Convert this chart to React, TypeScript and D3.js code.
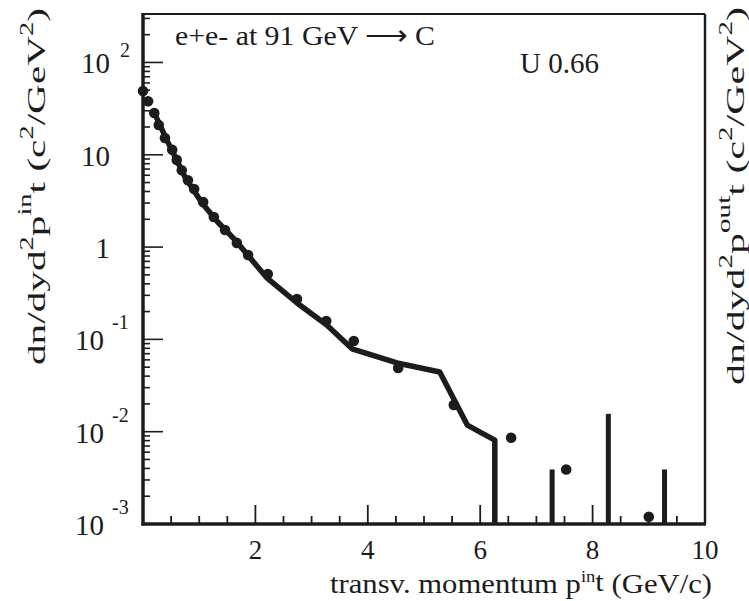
import React, { useEffect, useRef } from "react";
import * as d3 from "d3";

// measured points (dots)
const pointX = [0.0, 0.09, 0.2, 0.28, 0.39, 0.52, 0.6, 0.69, 0.8, 0.91, 1.07, 1.26, 1.46, 1.67, 1.87, 2.22, 2.74, 3.26, 3.75, 4.54, 5.53, 6.55, 7.53, 9.0];
const pointY = [49, 38, 28.4, 21, 15.2, 11.3, 8.8, 6.8, 5.3, 4.26, 3.08, 2.12, 1.53, 1.11, 0.82, 0.51, 0.274, 0.158, 0.096, 0.049, 0.0195, 0.0086, 0.0039, 0.0012];

// model curve
const curveX = [0.2, 0.44, 0.75, 1.05, 1.33, 1.64, 2.21, 2.74, 3.27, 3.72, 4.52, 5.28, 5.77, 6.26, 6.26];
const curveY = [28.4, 13.8, 5.7, 3.0, 1.87, 1.19, 0.46, 0.248, 0.143, 0.079, 0.0555, 0.0444, 0.0118, 0.0081, 0.001];

// isolated model bins
const spikeX = [7.28, 8.28, 9.28];
const spikeY = [0.0039, 0.0156, 0.0039];

const xTickLabels = [2, 4, 6, 8, 10];
const yDecades = [-3, -2, -1, 0, 1, 2];

const W = 749;
const H = 601;
const FONT = "'Liberation Serif', 'Times New Roman', serif";
const INK = "#1c1c1c";

export default function App() {
  const ref = useRef<SVGSVGElement>(null);

  useEffect(() => {
    const svg = d3.select(ref.current);
    svg.selectAll("*").remove();

    const x = d3.scaleLinear().domain([0, 10]).range([143, 705]);
    const y = d3.scaleLog().domain([1e-3, 335]).range([524, 14]);
    const [x0, x1] = x.range();
    const [yb, yt] = y.range();

    // ticks on x (inside, pointing up)
    const xt = d3.range(0.5, 10, 0.5);
    svg
      .append("g")
      .selectAll("line")
      .data(xt)
      .join("line")
      .attr("x1", (d) => x(d))
      .attr("x2", (d) => x(d))
      .attr("y1", yb)
      .attr("y2", (d) => (d % 2 === 0 ? yb - 19 : yb - 8))
      .attr("stroke", INK)
      .attr("stroke-width", 1.8);

    // ticks on y (log, inside)
    const yt2: { v: number; major: boolean }[] = [];
    yDecades.forEach((e) => {
      for (let m = 1; m <= 9; m++) {
        const v = m * Math.pow(10, e);
        if (v <= 335) yt2.push({ v, major: m === 1 });
      }
    });
    svg
      .append("g")
      .selectAll("line")
      .data(yt2)
      .join("line")
      .attr("x1", x0)
      .attr("x2", (d) => (d.major ? x0 + 20 : x0 + 7))
      .attr("y1", (d) => y(d.v))
      .attr("y2", (d) => y(d.v))
      .attr("stroke", INK)
      .attr("stroke-width", 1.6);

    // frame
    const frame = svg.append("g").attr("stroke", INK).attr("fill", "none");
    frame.append("line").attr("x1", x0).attr("x2", x1).attr("y1", yt).attr("y2", yt).attr("stroke-width", 2.2);
    frame.append("line").attr("x1", x1).attr("x2", x1).attr("y1", yt).attr("y2", yb).attr("stroke-width", 2.4);
    frame.append("line").attr("x1", x0).attr("x2", x0).attr("y1", yt - 1).attr("y2", yb + 1.5).attr("stroke-width", 3.5);
    frame.append("line").attr("x1", x0 - 1.5).attr("x2", x1 + 1).attr("y1", yb).attr("y2", yb).attr("stroke-width", 3.5);

    // model curve
    const line = d3
      .line<number>()
      .x((d, i) => x(curveX[i]))
      .y((d) => y(d));
    svg
      .append("path")
      .datum(curveY)
      .attr("d", line)
      .attr("fill", "none")
      .attr("stroke", INK)
      .attr("stroke-width", 5.5)
      .attr("stroke-linejoin", "round");

    svg
      .append("g")
      .selectAll("line")
      .data(spikeY)
      .join("line")
      .attr("x1", (d, i) => x(spikeX[i]))
      .attr("x2", (d, i) => x(spikeX[i]))
      .attr("y1", yb)
      .attr("y2", (d) => y(d))
      .attr("stroke", INK)
      .attr("stroke-width", 5);

    // data points
    svg
      .append("g")
      .selectAll("circle")
      .data(pointY)
      .join("circle")
      .attr("cx", (d, i) => x(pointX[i]))
      .attr("cy", (d) => y(d))
      .attr("r", 5.3)
      .attr("fill", INK);

    const text = svg.append("g").attr("font-family", FONT).attr("fill", INK);

    // x tick labels
    text
      .selectAll("text.xl")
      .data(xTickLabels)
      .join("text")
      .attr("class", "xl")
      .attr("x", (d) => x(d))
      .attr("y", 559)
      .attr("text-anchor", "middle")
      .attr("font-size", 27)
      .text((d) => String(d));

    // y tick labels
    yDecades.forEach((e) => {
      const ty = y(Math.pow(10, e));
      const right = e < 0 ? 104 : 110;
      text
        .append("text")
        .attr("x", right)
        .attr("y", ty + 11)
        .attr("text-anchor", "end")
        .attr("font-size", 29)
        .text(e === 0 ? "1" : "10");
      if (e !== 1 && e !== 0) {
        text
          .append("text")
          .attr("x", right + (e < 0 ? 8 : 10))
          .attr("y", ty + (e < 0 ? -10 : -5))
          .attr("font-size", 20)
          .text(String(e));
      }
    });

    // x title
    const xt3 = text
      .append("text")
      .attr("x", 330)
      .attr("y", 593)
      .attr("font-size", 28)
      .attr("textLength", 382)
      .attr("lengthAdjust", "spacingAndGlyphs");
    xt3.append("tspan").text("transv. momentum p");
    xt3.append("tspan").attr("font-size", 17).attr("dy", -11).text("in");
    xt3.append("tspan").attr("dy", 9).text("t");
    xt3.append("tspan").attr("dy", 2).text(" (GeV/c)");

    // y titles
    const yTitle = (cx: number, startY: number, len: number, sup: string) => {
      const t = text
        .append("text")
        .attr("transform", `translate(${cx},${startY}) rotate(-90)`)
        .attr("font-size", 26)
        .attr("textLength", len)
        .attr("lengthAdjust", "spacingAndGlyphs");
      t.append("tspan").text("dn/dyd");
      t.append("tspan").attr("font-size", 18).attr("dy", -12).text("2");
      t.append("tspan").attr("dy", 12).text("p");
      t.append("tspan").attr("font-size", 18).attr("dy", -14).text(sup);
      t.append("tspan").attr("dy", 14).text("t");
      t.append("tspan").text(" (c");
      t.append("tspan").attr("font-size", 18).attr("dy", -12).text("2");
      t.append("tspan").attr("dy", 12).text("/GeV");
      t.append("tspan").attr("font-size", 18).attr("dy", -12).text("2");
      t.append("tspan").attr("dy", 12).text(")");
    };
    yTitle(45, 365, 357, "in");
    yTitle(744, 385, 378, "out");

    // annotations
    text
      .append("text")
      .attr("x", 175)
      .attr("y", 45)
      .attr("font-size", 28)
      .attr("textLength", 260)
      .attr("lengthAdjust", "spacingAndGlyphs")
      .text("e+e- at 91 GeV \u27F6 C");
    text.append("text").attr("x", 520).attr("y", 73).attr("font-size", 29).text("U 0.66");
  }, []);

  return (
    <svg
      ref={ref}
      width={W}
      height={H}
      style={{ position: "absolute", left: 0, top: 0, background: "#fff", display: "block" }}
    />
  );
}
